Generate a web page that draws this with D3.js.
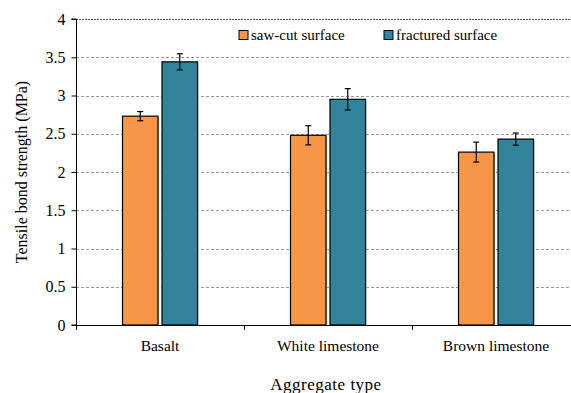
<!DOCTYPE html>
<html><head><meta charset="utf-8">
<script src="https://cdn.jsdelivr.net/npm/d3@7"></script>
</head>
<body style="margin:0">
<svg id="chart" width="571" height="393" style="display:block">
  <text x="326" y="390" text-anchor="middle" style="font-family:'Liberation Serif';font-size:17px;letter-spacing:0.5px">Aggregate type</text>
  <text transform="translate(27,172) rotate(-90)" text-anchor="middle" style="font-family:'Liberation Serif';font-size:16px">Tensile bond strength (MPa)</text>
</svg>
<script>
// Tensile bond strength by aggregate type and surface preparation
const categories = ["Basalt", "White limestone", "Brown limestone"];
const seriesNames = ["saw-cut surface", "fractured surface"];
const sawCut = [2.73, 2.48, 2.26];
const sawCutErr = [0.06, 0.125, 0.13];
const fractured = [3.44, 2.95, 2.43];
const fracturedErr = [0.105, 0.14, 0.08];
const yTicks = [0, 0.5, 1, 1.5, 2, 2.5, 3, 3.5, 4];
const colors = ["#F79646", "#31849B"];

const textStyle = size => `font-family:'Liberation Serif';font-size:${size}px`;
const svg = d3.select("#chart");
const margin = { left: 76, top: 19, bottom: 68 };
const plotRight = 580;
const height = 393;
const y0 = height - margin.bottom;

const x = d3.scaleBand().domain(categories).range([margin.left, plotRight]).paddingInner(0).paddingOuter(0);
const xs = d3.scaleBand().domain(seriesNames).range([0, x.bandwidth()]).paddingInner(0.101).paddingOuter(1.177);
const y = d3.scaleLinear().domain([0, 4]).range([y0, margin.top]);

// gridlines
svg.append("g").selectAll("line").data(yTicks.filter(t => t > 0)).join("line")
  .attr("x1", margin.left).attr("x2", 571)
  .attr("y1", d => Math.round(y(d)) + 0.5).attr("y2", d => Math.round(y(d)) + 0.5)
  .attr("stroke", d => d === 4 ? "#555" : "#9a9a9a")
  .attr("stroke-width", 1)
  .attr("stroke-dasharray", d => d === 4 ? "2,1" : "3,2");

// bars
const series = [
  { name: seriesNames[0], values: sawCut, errs: sawCutErr, color: colors[0] },
  { name: seriesNames[1], values: fractured, errs: fracturedErr, color: colors[1] }
];
const barData = [];
series.forEach(s => categories.forEach((c, i) => barData.push({ cat: c, name: s.name, v: s.values[i], e: s.errs[i], color: s.color })));

// soft shadow under bars
svg.append("g").selectAll("rect").data(barData).join("rect")
  .attr("x", d => x(d.cat) + xs(d.name) + 1)
  .attr("y", d => y(d.v) + 1)
  .attr("width", xs.bandwidth())
  .attr("height", d => y0 - y(d.v) - 1)
  .attr("fill", "#bbb");

svg.append("g").selectAll("rect").data(barData).join("rect")
  .attr("x", d => x(d.cat) + xs(d.name))
  .attr("y", d => y(d.v))
  .attr("width", xs.bandwidth())
  .attr("height", d => y0 - y(d.v))
  .attr("fill", d => d.color)
  .attr("stroke", "#000")
  .attr("stroke-width", 1.2);

// error bars
const eg = svg.append("g").attr("stroke", "#000").attr("stroke-width", 1.2);
barData.forEach(d => {
  const cx = x(d.cat) + xs(d.name) + xs.bandwidth() / 2;
  eg.append("line").attr("x1", cx).attr("x2", cx).attr("y1", y(d.v + d.e)).attr("y2", y(d.v - d.e));
  eg.append("line").attr("x1", cx - 3).attr("x2", cx + 3).attr("y1", y(d.v + d.e)).attr("y2", y(d.v + d.e));
  eg.append("line").attr("x1", cx - 3).attr("x2", cx + 3).attr("y1", y(d.v - d.e)).attr("y2", y(d.v - d.e));
});

// y axis
const yAxis = svg.append("g").attr("transform", `translate(${margin.left + 0.5},0)`)
  .call(d3.axisLeft(y).tickValues(yTicks).tickSize(5).tickPadding(6).tickFormat(d3.format("")));
yAxis.attr("font-family", null).attr("font-size", null);
yAxis.select(".domain").attr("stroke", "#000").attr("d", `M-5,${margin.top}H0V${y0}H-5`);
yAxis.selectAll("text").attr("style", textStyle(16)).attr("fill", "#000");

// x axis
const bounds = categories.map(c => x(c)).concat([plotRight]);
const xAxis = svg.append("g");
xAxis.append("line").attr("x1", margin.left).attr("x2", 571).attr("y1", y0 + 0.5).attr("y2", y0 + 0.5).attr("stroke", "#000");
xAxis.selectAll("line.tk").data(bounds).join("line").attr("class", "tk")
  .attr("x1", d => Math.round(d) + 0.5).attr("x2", d => Math.round(d) + 0.5)
  .attr("y1", y0).attr("y2", y0 + 5).attr("stroke", "#000");
xAxis.selectAll("text").data(categories).join("text")
  .attr("x", d => x(d) + x.bandwidth() / 2)
  .attr("y", y0 + 26)
  .attr("text-anchor", "middle")
  .attr("style", textStyle(15.5))
  .text(d => d);

// legend
const legendX = [239, 384];
const lg = svg.append("g");
series.forEach((s, i) => {
  lg.append("rect").attr("x", legendX[i]).attr("y", 30.5).attr("width", 9).attr("height", 9)
    .attr("fill", s.color).attr("stroke", "#000").attr("stroke-width", 1);
  lg.append("text").attr("x", legendX[i] + 12).attr("y", 40)
    .attr("style", textStyle(15)).text(s.name);
});
</script>
</body></html>
